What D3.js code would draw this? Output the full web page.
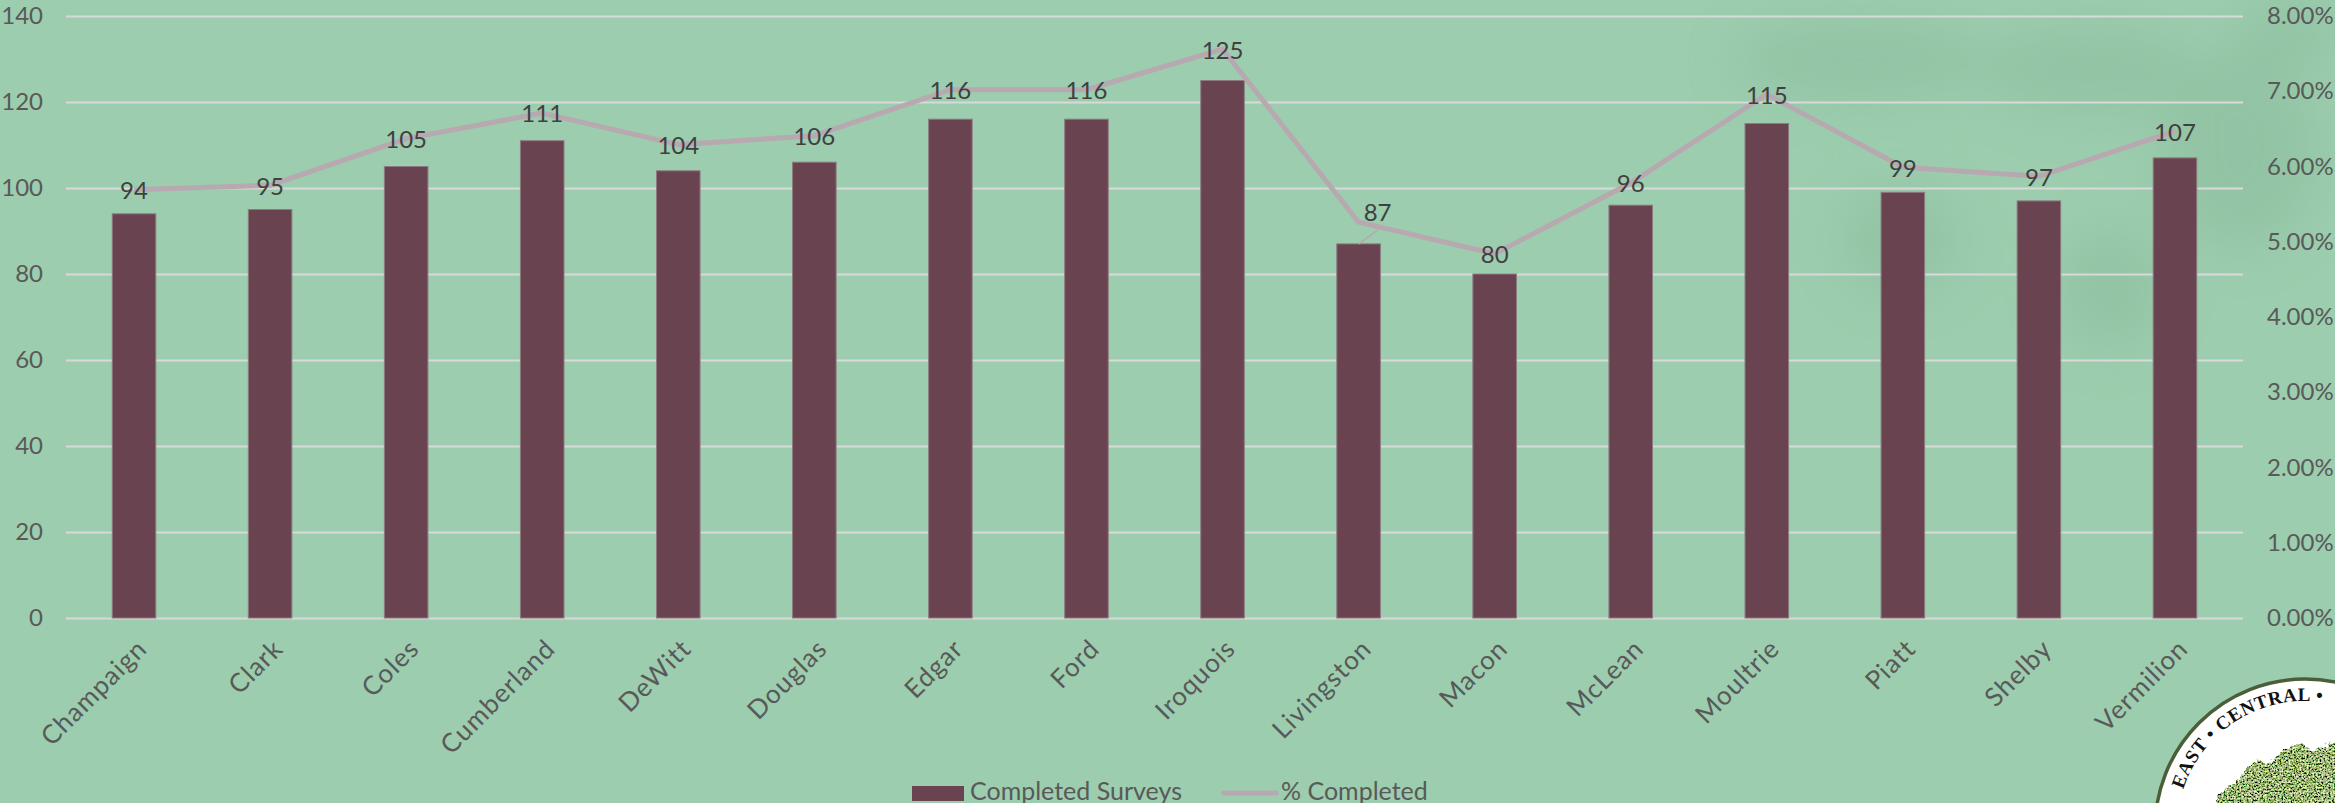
<!DOCTYPE html>
<html>
<head>
<meta charset="utf-8">
<script src="https://cdn.jsdelivr.net/npm/d3@7"></script>
<style>
  html, body { margin: 0; padding: 0; background: #9BCDAE; }
  svg { display: block; }
  text { font-family: Lato, "Noto Sans", sans-serif; }
</style>
</head>
<body>
<svg id="chart" width="2335" height="803"></svg>
<script>
// County survey results
const counties = ["Champaign", "Clark", "Coles", "Cumberland", "DeWitt", "Douglas", "Edgar", "Ford",
  "Iroquois", "Livingston", "Macon", "McLean", "Moultrie", "Piatt", "Shelby", "Vermilion"];
const completedSurveys = [94, 95, 105, 111, 104, 106, 116, 116, 125, 87, 80, 96, 115, 99, 97, 107];
const percentCompleted = [5.69, 5.75, 6.37, 6.71, 6.29, 6.41, 7.02, 7.02, 7.56, 5.26, 4.84, 5.78, 6.96, 5.99, 5.87, 6.47];
const leftTicks = [0, 20, 40, 60, 80, 100, 120, 140];
const rightTicks = [0, 1, 2, 3, 4, 5, 6, 7, 8];
const seriesNames = ["Completed Surveys", "% Completed"];

const W = 2335, H = 803;
const plot = { left: 66, right: 2243, top: 16, bottom: 618 };

const C = {
  bg: "#9BCDAE",
  bar: "#6A4350",
  barEdge: "#8C7A80",
  line: "#B8A8B0",
  grid: "#D9D9D9",
  axisText: "#595959",
  labelText: "#404040"
};

const svg = d3.select("#chart");
const defs = svg.append("defs");

// soft darker patches in the upper right background
const haze = defs.append("filter").attr("id", "haze")
  .attr("x", "-50%").attr("y", "-50%").attr("width", "200%").attr("height", "200%");
haze.append("feGaussianBlur").attr("stdDeviation", 26);

// leafy texture for the seal's tree
const leaf = defs.append("filter").attr("id", "foliage")
  .attr("x", "-30%").attr("y", "-30%").attr("width", "160%").attr("height", "160%");
leaf.append("feTurbulence").attr("type", "fractalNoise").attr("baseFrequency", 0.12)
  .attr("numOctaves", 3).attr("seed", 4).attr("result", "n");
leaf.append("feDisplacementMap").attr("in", "SourceGraphic").attr("in2", "n")
  .attr("scale", 16).attr("xChannelSelector", "R").attr("yChannelSelector", "G").attr("result", "shape");
leaf.append("feTurbulence").attr("type", "fractalNoise").attr("baseFrequency", 0.55)
  .attr("numOctaves", 2).attr("seed", 11).attr("result", "n2");
leaf.append("feColorMatrix").attr("in", "n2").attr("type", "matrix")
  .attr("values", "2.2 0 0 0 -0.75  2.0 0 0 0 -0.55  1.8 0 0 0 -0.7  0 0 0 0 1")
  .attr("result", "tex");
leaf.append("feComposite").attr("in", "tex").attr("in2", "shape").attr("operator", "in");

svg.append("rect").attr("width", W).attr("height", H).attr("fill", C.bg);

const hazeG = svg.append("g").attr("filter", "url(#haze)").attr("fill", "#7FAF8F").attr("opacity", 0.3);
[[1860, 60, 130, 40], [2090, 70, 110, 45], [2240, 150, 80, 100], [1900, 240, 60, 55], [2110, 290, 55, 60], [2290, 30, 55, 35]]
  .forEach(([cx, cy, rx, ry]) => hazeG.append("ellipse").attr("cx", cx).attr("cy", cy).attr("rx", rx).attr("ry", ry));

// scales
const x = d3.scaleBand().domain(counties).range([plot.left, plot.right]).paddingInner(0.68).paddingOuter(0.34);
const yL = d3.scaleLinear().domain([0, 140]).range([plot.bottom, plot.top]);
const yR = d3.scaleLinear().domain([0, 8]).range([plot.bottom, plot.top]);
const cx = d => x(d) + x.bandwidth() / 2;

// gridlines and left axis
const gL = svg.append("g").attr("transform", `translate(${plot.left},0)`)
  .call(d3.axisLeft(yL).tickValues(leftTicks).tickSize(-(plot.right - plot.left)).tickPadding(23));
gL.select(".domain").remove();
gL.selectAll(".tick line").attr("stroke", C.grid).attr("stroke-width", 2);
gL.selectAll(".tick text").attr("fill", C.axisText).style("font-size", "24px")
  .style("font-family", "Lato, 'Noto Sans', sans-serif");

// right axis
const gR = svg.append("g").attr("transform", `translate(${plot.right},0)`)
  .call(d3.axisRight(yR).tickValues(rightTicks).tickSize(0).tickPadding(24).tickFormat(d => d.toFixed(2) + "%"));
gR.select(".domain").remove();
gR.selectAll(".tick text").attr("fill", C.axisText).style("font-size", "24px")
  .style("font-family", "Lato, 'Noto Sans', sans-serif");

// bars
svg.append("g").selectAll("rect").data(counties).join("rect")
  .attr("x", d => x(d))
  .attr("y", (d, i) => yL(completedSurveys[i]))
  .attr("width", x.bandwidth())
  .attr("height", (d, i) => yL(0) - yL(completedSurveys[i]))
  .attr("fill", C.bar)
  .attr("stroke", C.barEdge).attr("stroke-width", 1);

// share line
const line = d3.line().x(d => cx(d[0])).y(d => yR(d[1]));
svg.append("path")
  .datum(counties.map((c, i) => [c, percentCompleted[i]]))
  .attr("d", line)
  .attr("fill", "none").attr("stroke", C.line).attr("stroke-width", 5)
  .attr("stroke-linejoin", "round");

// value labels sit on the line; one is nudged aside with a leader line
const nudge = { Livingston: [19, -10] };
const labels = svg.append("g");
counties.forEach((c, i) => {
  const off = nudge[c] || [0, 1];
  const lx = cx(c) + off[0], ly = yR(percentCompleted[i]) + off[1];
  if (nudge[c]) {
    labels.append("line")
      .attr("x1", cx(c)).attr("y1", yL(completedSurveys[i]))
      .attr("x2", lx).attr("y2", ly + 18)
      .attr("stroke", C.line).attr("stroke-width", 1.5);
  }
  labels.append("text")
    .attr("x", lx).attr("y", ly).attr("dy", "0.35em")
    .attr("text-anchor", "middle")
    .attr("fill", C.labelText).style("font-size", "24px")
    .text(completedSurveys[i]);
});

// category labels, slanted
svg.append("g").selectAll("text").data(counties).join("text")
  .attr("transform", d => `translate(${cx(d) + 8},${plot.bottom + 26}) rotate(-45)`)
  .attr("text-anchor", "end").attr("dy", "0.35em")
  .attr("fill", C.axisText).style("font-size", "26px").style("letter-spacing", "1px")
  .text(d => d);

// legend
const lg = svg.append("g");
lg.append("rect").attr("x", 912).attr("y", 786).attr("width", 52).attr("height", 15).attr("fill", C.bar);
lg.append("text").attr("x", 970).attr("y", 800).attr("fill", C.axisText).style("font-size", "25px").text(seriesNames[0]);
lg.append("line").attr("x1", 1224).attr("x2", 1276).attr("y1", 793).attr("y2", 793)
  .attr("stroke", C.line).attr("stroke-width", 5).attr("stroke-linecap", "round");
lg.append("text").attr("x", 1281).attr("y", 800).attr("fill", C.axisText).style("font-size", "25px").text(seriesNames[1]);

// seal in the corner
const seal = { x: 2305, y: 829, r: 150 };
defs.append("clipPath").attr("id", "sealClip")
  .append("circle").attr("cx", seal.x).attr("cy", seal.y).attr("r", seal.r - 2);
const sg = svg.append("g");
sg.append("circle").attr("cx", seal.x).attr("cy", seal.y).attr("r", seal.r)
  .attr("fill", "#FFFFFF").attr("stroke", "#4B5E3A").attr("stroke-width", 3.5);
const tree = sg.append("g").attr("clip-path", "url(#sealClip)").append("g").attr("filter", "url(#foliage)").attr("fill", "#6C8A58");
[[2240, 808, 24], [2266, 788, 28], [2300, 778, 32], [2335, 778, 34], [2355, 805, 38], [2290, 812, 36], [2228, 825, 18]]
  .forEach(([x0, y0, r0]) => tree.append("circle").attr("cx", x0).attr("cy", y0).attr("r", r0));

const a0 = 198 * Math.PI / 180, a1 = 300 * Math.PI / 180, ar = 128;
defs.append("path").attr("id", "sealArc")
  .attr("d", `M${seal.x + ar * Math.cos(a0)},${seal.y + ar * Math.sin(a0)} A${ar},${ar} 0 0 1 ${seal.x + ar * Math.cos(a1)},${seal.y + ar * Math.sin(a1)}`);
sg.append("text")
  .style("font-family", "'Liberation Serif', 'DejaVu Serif', serif")
  .style("font-size", "19px").style("font-weight", "bold").style("letter-spacing", "0.6px")
  .attr("fill", "#111")
  .append("textPath").attr("href", "#sealArc").attr("startOffset", 0)
  .text("EAST • CENTRAL •");
</script>
</body>
</html>
